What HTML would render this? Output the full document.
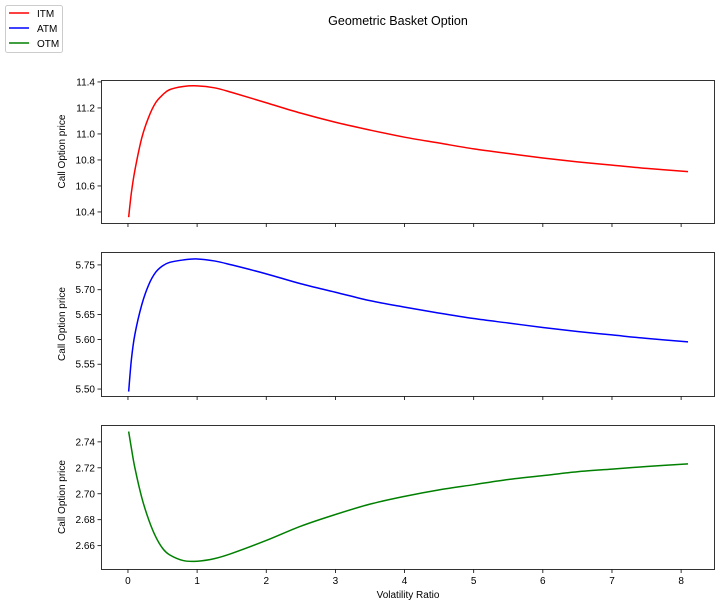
<!DOCTYPE html>
<html><head><meta charset="utf-8"><style>
body{margin:0;background:#fff;}
svg{display:block;font-family:"Liberation Sans",sans-serif;}
</style></head><body>
<svg id="chart" width="722" height="607" xmlns="http://www.w3.org/2000/svg">
<text x="398" y="25" font-size="12.5" text-anchor="middle">Geometric Basket Option</text>
<g>
<rect x="5.5" y="5.5" width="57" height="47" rx="2" fill="#fff" stroke="#ccc"/>
<line x1="9" y1="13" x2="29" y2="13" stroke="red" stroke-width="1.5"/><text x="37" y="17" font-size="10">ITM</text>
<line x1="9" y1="28" x2="29" y2="28" stroke="blue" stroke-width="1.5"/><text x="37" y="32" font-size="10">ATM</text>
<line x1="9" y1="43" x2="29" y2="43" stroke="green" stroke-width="1.5"/><text x="37" y="47" font-size="10">OTM</text>
</g>
<text x="408" y="598" font-size="10" text-anchor="middle">Volatility Ratio</text>
</svg>
<script>
const xs=[0.01,0.05,0.1,0.2,0.3,0.4,0.5,0.6,0.8,1,1.25,1.5,2,2.5,3,3.5,4,4.5,5,5.5,6,6.5,7,7.5,8.1];
const itm=[10.36,10.55,10.72,10.97,11.13,11.24,11.30,11.34,11.365,11.37,11.355,11.32,11.24,11.16,11.09,11.03,10.975,10.93,10.885,10.85,10.815,10.785,10.76,10.735,10.71];
const atm=[5.495,5.56,5.61,5.67,5.71,5.735,5.748,5.755,5.760,5.762,5.758,5.75,5.732,5.712,5.695,5.678,5.665,5.653,5.642,5.633,5.624,5.616,5.609,5.602,5.595];
const otm=[2.748,2.735,2.72,2.697,2.68,2.667,2.658,2.653,2.6485,2.648,2.650,2.654,2.664,2.675,2.684,2.692,2.698,2.703,2.707,2.711,2.714,2.717,2.719,2.721,2.723];
const xTicks=[0,1,2,3,4,5,6,7,8];
const itmTicks=["10.4","10.6","10.8","11.0","11.2","11.4"];
const atmTicks=["5.50","5.55","5.60","5.65","5.70","5.75"];
const otmTicks=["2.66","2.68","2.70","2.72","2.74"];
const NS="http://www.w3.org/2000/svg";
const svg=document.getElementById('chart');
const L=101,R=715,xmin=-0.39,xmax=8.49;
function sx(v){return L+(v-xmin)/(xmax-xmin)*(R-L);}
function mk(t,a,p){const e=document.createElementNS(NS,t);for(const k in a)e.setAttribute(k,a[k]);(p||svg).appendChild(e);return e;}
function smooth(P){let d='M'+P[0][0].toFixed(2)+','+P[0][1].toFixed(2);
 for(let i=0;i<P.length-1;i++){const p0=P[Math.max(i-1,0)],p1=P[i],p2=P[i+1],p3=P[Math.min(i+2,P.length-1)];
  const c1=[p1[0]+(p2[0]-p0[0])/6,p1[1]+(p2[1]-p0[1])/6],c2=[p2[0]-(p3[0]-p1[0])/6,p2[1]-(p3[1]-p1[1])/6];
  d+=' C'+c1.map(v=>v.toFixed(2)).join(',')+' '+c2.map(v=>v.toFixed(2)).join(',')+' '+p2[0].toFixed(2)+','+p2[1].toFixed(2);}
 return d;}
const panels=[
{name:'itm',top:80,bot:223,ymin:10.315,ymax:11.415,data:itm,ticks:itmTicks,color:'red',labels:false},
{name:'atm',top:252,bot:396,ymin:5.486,ymax:5.776,data:atm,ticks:atmTicks,color:'blue',labels:false},
{name:'otm',top:425,bot:569,ymin:2.642,ymax:2.753,data:otm,ticks:otmTicks,color:'green',labels:true}];
panels.forEach(p=>{
 const g=mk('g',{});
 
 
 const sy=v=>p.bot-(v-p.ymin)/(p.ymax-p.ymin)*(p.bot-p.top);
 const P=xs.map((x,i)=>[sx(x),sy(p.data[i])]);
 const line=mk('path',{d:smooth(P),fill:'none',stroke:p.color,'stroke-width':1.5,'stroke-linejoin':'round'},g);
 
 
 const fr=mk('rect',{x:L+0.5,y:p.top+0.5,width:R-L-1,height:p.bot-p.top,fill:'none',stroke:'#000','stroke-width':0.8},g);
 
 
 p.ticks.forEach(t=>{const y=sy(parseFloat(t));
  mk('line',{x1:L-3.5,x2:L,y1:y,y2:y,stroke:'#000','stroke-width':0.8},g);
  const tx=mk('text',{x:L-6,y:y+3.5,'font-size':10,'text-anchor':'end'},g);tx.textContent=t;
  
  });
 xTicks.forEach(t=>{const x=sx(t);
  mk('line',{x1:x,x2:x,y1:p.bot+0.5,y2:p.bot+4,stroke:'#000','stroke-width':0.8},g);
  if(p.labels){const tx=mk('text',{x:x,y:p.bot+15,'font-size':10,'text-anchor':'middle'},g);tx.textContent=t;
   
   }});
 const cy=(p.top+p.bot)/2;
 const yt=mk('text',{x:0,y:0,'font-size':10,'text-anchor':'middle',transform:`translate(65,${cy}) rotate(-90)`},g);
 yt.textContent='Call Option price';
 
 
});
</script>
</body></html>
